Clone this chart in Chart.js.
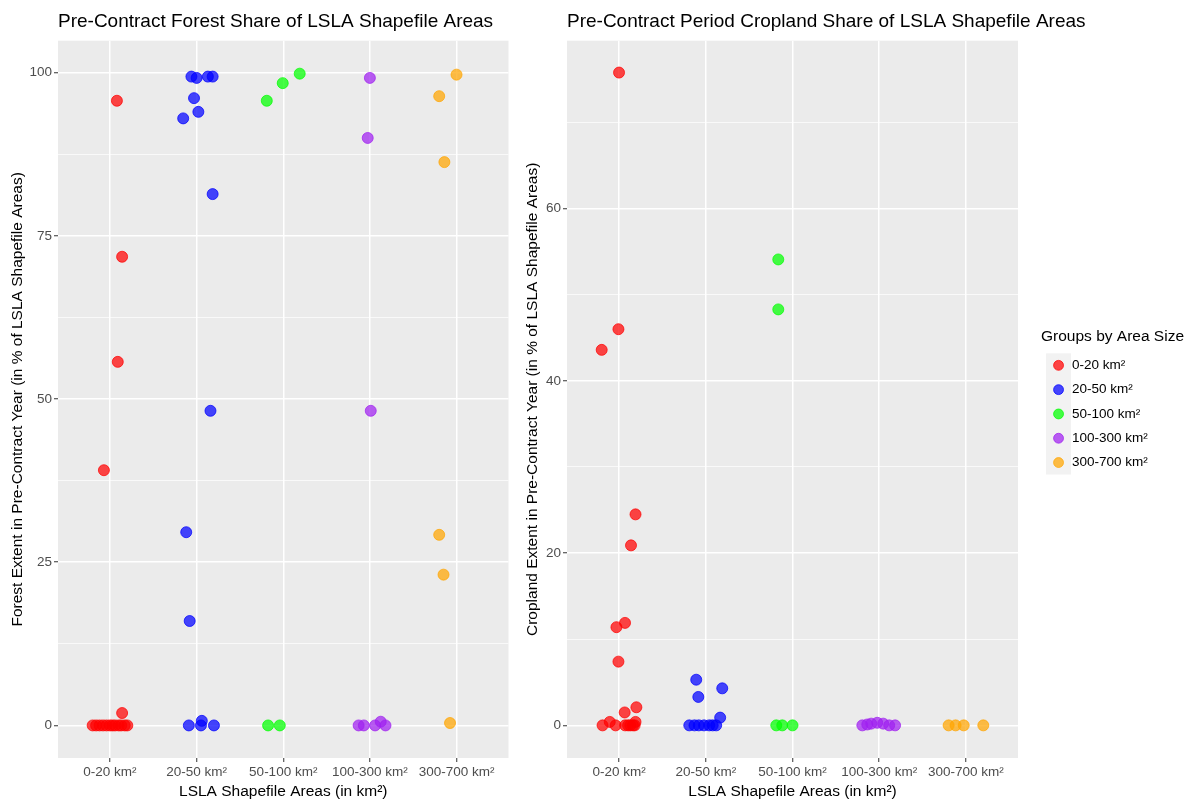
<!DOCTYPE html>
<html>
<head>
<meta charset="utf-8">
<script src="https://cdn.jsdelivr.net/npm/chart.js@4/dist/chart.umd.min.js"></script>
<style>
  html, body { margin: 0; padding: 0; background: #ffffff; }
  #wrap { position: relative; width: 1191px; height: 801px; overflow: hidden; }
  #forest { position: absolute; left: 0; top: 0; width: 515px; height: 801px; }
  #cropland { position: absolute; left: 512px; top: 0; width: 679px; height: 801px; }
</style>
</head>
<body>
<div id="wrap">
  <canvas id="forest" width="515" height="801"></canvas>
  <canvas id="cropland" width="679" height="801"></canvas>
</div>
<script>
// Size groups (x categories and legend entries)
const categories = ['0-20 km²', '20-50 km²', '50-100 km²', '100-300 km²', '300-700 km²'];
const groupRGB = ['255,0,0', '0,0,255', '0,255,0', '160,32,240', '255,165,0'];

// Forest extent in pre-contract year (% of LSLA shapefile area), per group,
// with the horizontal jitter of each point around its category
const forest020 = [95.7, 71.8, 55.7, 39.1, 1.9, 0, 0, 0, 0, 0, 0, 0, 0, 0, 0, 0, 0];
const forest020Jit = [0.08, 0.14, 0.09, -0.07, 0.14, -0.20, -0.16, -0.12, -0.08, -0.04, 0.0, 0.03, 0.06, 0.10, 0.13, 0.17, 0.20];
const forest2050 = [99.4, 99.2, 99.4, 99.4, 96.1, 94.0, 93.0, 81.4, 48.2, 29.6, 16.0, 0, 0.7, 0, 0];
const forest2050Jit = [-0.06, 0.0, 0.13, 0.185, -0.03, 0.02, -0.155, 0.185, 0.16, -0.12, -0.08, -0.09, 0.06, 0.05, 0.20];
const forest50100 = [95.7, 98.4, 99.85, 0, 0];
const forest50100Jit = [-0.19, -0.006, 0.19, -0.175, -0.04];
const forest100300 = [99.2, 90.0, 48.2, 0, 0, 0, 0.57, 0];
const forest100300Jit = [0.0, -0.025, 0.01, -0.13, -0.07, 0.06, 0.125, 0.18];
const forest300700 = [99.7, 96.4, 86.3, 29.2, 23.1, 0.37];
const forest300700Jit = [0.0, -0.2, -0.14, -0.2, -0.15, -0.075];

// Cropland extent in pre-contract year (% of LSLA shapefile area), per group
const crop020 = [75.8, 46.0, 43.6, 24.5, 20.9, 11.9, 11.4, 7.4, 2.1, 1.5, 0.4, 0.4, 0, 0, 0, 0, 0, 0, 0];
const crop020Jit = [0.0, -0.007, -0.2, 0.19, 0.138, 0.069, -0.03, -0.007, 0.2, 0.065, -0.107, 0.19, -0.19, -0.04, 0.07, 0.104, 0.13, 0.16, 0.18];
const crop2050 = [5.3, 3.3, 4.3, 0.9, 0, 0, 0, 0, 0, 0, 0];
const crop2050Jit = [-0.11, -0.086, 0.19, 0.166, -0.19, -0.13, -0.08, -0.02, 0.04, 0.08, 0.12];
const crop50100 = [54.1, 48.3, 0, 0, 0];
const crop50100Jit = [-0.164, -0.164, -0.187, -0.118, 0.0];
const crop100300 = [0, 0.1, 0.2, 0.3, 0.2, 0, 0];
const crop100300Jit = [-0.195, -0.138, -0.092, -0.023, 0.046, 0.115, 0.183];
const crop300700 = [0, 0, 0, 0];
const crop300700Jit = [-0.2, -0.12, -0.026, 0.2];

// Y tick values
const forestTicks = [0, 12.5, 25, 37.5, 50, 62.5, 75, 87.5, 100];
const forestLabelled = [0, 25, 50, 75, 100];
const cropTicks = [0, 10, 20, 30, 40, 50, 60, 70];
const cropLabelled = [0, 20, 40, 60];

const FONT = "'Liberation Sans', Arial, Helvetica, sans-serif";

function groupDataset(i, values, jitter) {
  return {
    label: categories[i],
    data: values.map((v, k) => ({ x: i + 1 + jitter[k], y: v })),
    backgroundColor: 'rgba(' + groupRGB[i] + ',0.72)',
    borderColor: 'rgba(' + groupRGB[i] + ',0.72)',
    borderWidth: 1,
    pointRadius: 5.5,
    pointHoverRadius: 5.5
  };
}

// Grey panel background, legend key background and left-aligned panel title
const panelDecor = {
  id: 'panelDecor',
  beforeDraw(chart, args, opts) {
    const { ctx, chartArea: a } = chart;
    ctx.save();
    ctx.fillStyle = '#ffffff';
    ctx.fillRect(0, 0, chart.width, chart.height);
    ctx.fillStyle = '#EBEBEB';
    ctx.fillRect(a.left, a.top, a.right - a.left, a.bottom - a.top);
    if (opts.keyBackground && chart.legend) {
      const lg = chart.legend;
      const lo = chart.options.plugins.legend;
      const lp = lo.labels.padding;
      const fs = lo.labels.font.size;
      const tf = lo.title.font.size * 1.2 + lo.title.padding.top + lo.title.padding.bottom;
      const cx = lg.left + lp + lo.labels.boxWidth / 2;
      const cy0 = lg.top + tf + lp + fs / 2;
      const step = fs + lp;
      ctx.fillStyle = '#F2F2F2';
      ctx.fillRect(cx - 12.5, cy0 - 12, 25, step * 4 + 24);
    }
    ctx.restore();
  },
  afterDraw(chart, args, opts) {
    const { ctx, chartArea: a } = chart;
    ctx.save();
    ctx.fillStyle = '#000000';
    ctx.font = '19px ' + FONT;
    ctx.textAlign = 'left';
    ctx.textBaseline = 'middle';
    ctx.fillText(opts.title, a.left, 22);
    ctx.restore();
  }
};

function yScale(ticksList, labelled, min, max, title, width, titlePad) {
  const isMajor = v => labelled.indexOf(v) !== -1;
  return {
    type: 'linear', position: 'left', min: min, max: max,
    afterBuildTicks: s => { s.ticks = ticksList.map(v => ({ value: v })); },
    afterFit: s => { s.width = width; },
    ticks: {
      callback: v => (isMajor(v) ? String(v) : ''),
      color: '#4D4D4D', font: { family: FONT, size: 13.5 }, padding: 2, autoSkip: false
    },
    grid: {
      color: '#FFFFFF',
      lineWidth: c => (c.tick && isMajor(c.tick.value) ? 1.5 : 0.7),
      tickColor: c => (c.tick && isMajor(c.tick.value) ? '#333333' : 'rgba(0,0,0,0)'),
      tickLength: 4, tickWidth: 1
    },
    border: { display: false },
    title: { display: true, text: title, color: '#000000', font: { family: FONT, size: 15.5 }, padding: { top: titlePad, bottom: 0 } }
  };
}

function xScale() {
  return {
    type: 'linear', position: 'bottom', min: 0.4, max: 5.6,
    afterBuildTicks: s => { s.ticks = categories.map((c, i) => ({ value: i + 1 })); },
    afterFit: s => { s.height = 43; },
    ticks: {
      callback: v => categories[Math.round(v) - 1],
      color: '#4D4D4D', font: { family: FONT, size: 13.5 }, padding: 2, autoSkip: false, maxRotation: 0
    },
    grid: { color: '#FFFFFF', lineWidth: 1.5, tickColor: '#333333', tickLength: 4, tickWidth: 1 },
    border: { display: false },
    title: { display: true, text: 'LSLA Shapefile Areas (in km²)', color: '#000000', font: { family: FONT, size: 15.5 }, padding: { top: 0, bottom: 0 } }
  };
}

// Left panel: forest share
new Chart(document.getElementById('forest'), {
  type: 'scatter',
  data: {
    datasets: [
      groupDataset(0, forest020, forest020Jit),
      groupDataset(1, forest2050, forest2050Jit),
      groupDataset(2, forest50100, forest50100Jit),
      groupDataset(3, forest100300, forest100300Jit),
      groupDataset(4, forest300700, forest300700Jit)
    ]
  },
  options: {
    responsive: false, animation: false, events: [],
    layout: { padding: { top: 40.7, right: 5, left: 0, bottom: 0 } },
    plugins: {
      legend: { display: false },
      tooltip: { enabled: false },
      panelDecor: { title: 'Pre-Contract Forest Share of LSLA Shapefile Areas' }
    },
    scales: {
      x: xScale(),
      y: yScale(forestTicks, forestLabelled, -4.99, 104.9,
        'Forest Extent in Pre-Contract Year (in % of LSLA Shapefile Areas)', 58, 8.7)
    }
  },
  plugins: [panelDecor]
});

// Legend box sizing: fixed width and a small inset from the panel edge
const legendPlacement = {
  id: 'legendPlacement',
  beforeLayout(chart) {
    const lg = chart.legend;
    if (lg && !lg._fixedWidth) {
      const fit = lg.fit;
      lg.fit = function () { fit.call(this); this.width = 173; };
      lg._fixedWidth = true;
    }
  },
  afterLayout(chart) {
    const lg = chart.legend;
    if (lg) { lg.left += 23; lg.right += 23; }
  }
};

// Right panel: cropland share, with the shared legend
new Chart(document.getElementById('cropland'), {
  type: 'scatter',
  data: {
    datasets: [
      groupDataset(0, crop020, crop020Jit),
      groupDataset(1, crop2050, crop2050Jit),
      groupDataset(2, crop50100, crop50100Jit),
      groupDataset(3, crop100300, crop100300Jit),
      groupDataset(4, crop300700, crop300700Jit)
    ]
  },
  options: {
    responsive: false, animation: false, events: [],
    layout: { padding: { top: 40.7, right: 0, left: 0, bottom: 0 } },
    plugins: {
      legend: {
        display: true, position: 'right', align: 'start', reverse: false,
        title: {
          display: true, text: 'Groups by Area Size', position: 'start', color: '#000000',
          font: { family: FONT, size: 15.5 }, padding: { top: 288.5, bottom: 0 }
        },
        labels: {
          usePointStyle: true, pointStyle: 'circle', boxWidth: 13.5, boxHeight: 7, padding: 10.8,
          color: '#000000', font: { family: FONT, size: 13.5 }
        }
      },
      tooltip: { enabled: false },
      panelDecor: { title: 'Pre-Contract Period Cropland Share of LSLA Shapefile Areas', keyBackground: true }
    },
    scales: {
      x: xScale(),
      y: yScale(cropTicks, cropLabelled, -3.79, 79.5,
        'Cropland Extent in Pre-Contract Year (in % of LSLA Shapefile Areas)', 55, 11.7)
    }
  },
  plugins: [panelDecor, legendPlacement]
});
</script>
</body>
</html>
